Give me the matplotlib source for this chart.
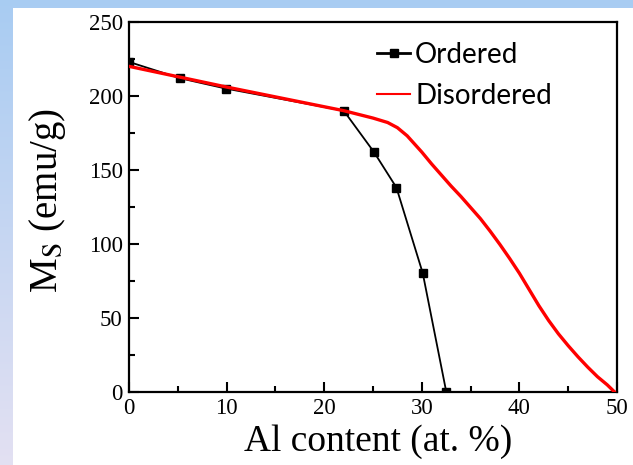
import numpy as np
import matplotlib
matplotlib.use("Agg")
import matplotlib.pyplot as plt
from matplotlib.patches import Rectangle

plt.rcParams['font.family'] = ['Liberation Serif', 'DejaVu Serif']
plt.rcParams['mathtext.fontset'] = 'stix'

# saturation magnetisation vs Al content
ordered_al = [0, 5.2, 9.9, 22.0, 25.1, 27.4, 30.1, 32.5]
ordered_ms = [223, 212, 205, 190, 162, 138, 80, 0]

disordered_al = [0, 10, 22, 25, 26.5, 27.5, 28.5, 30, 31, 32, 33, 34, 36, 37, 38, 39, 40, 41, 42,
                 43, 44, 45, 46, 47, 48, 49, 49.7]
disordered_ms = [220, 206, 190, 185, 182, 178.5, 173, 162, 154, 146.5, 139, 132, 117, 108.5, 99.5,
                 90, 80, 69, 58, 48, 39, 31, 23.5, 16.5, 10, 4.5, 0]

W, H = 633, 465
fig = plt.figure(figsize=(W / 100, H / 100), dpi=100)

# slide background: blue band on top, blue-to-lavender strip on the left
bg = fig.add_axes([0, 0, 1, 1])
bg.set_axis_off()
top = np.array([0.66, 0.80, 0.95])
bottom = np.array([0.89, 0.88, 0.95])
t = np.linspace(0, 1, 200)[:, None]
grad = (1 - t) * top + t * bottom
bg.imshow(grad[:, None, :], aspect='auto', extent=[0, W, H, 0])
bg.add_patch(Rectangle((13, 8), W - 13, H - 8, facecolor='white', edgecolor='none'))
bg.set_xlim(0, W)
bg.set_ylim(H, 0)

ax = fig.add_axes([129 / W, 73.5 / H, 488 / W, 369.5 / H])
ax.plot(ordered_al, ordered_ms, color='black', lw=1.3, marker='s', ms=6,
        label='Ordered', zorder=3)
ax.plot(disordered_al, disordered_ms, color='#ff0000', lw=2.4,
        label='Disordered', zorder=4)

ax.set_xlim(0, 50)
ax.set_ylim(0, 250)
ax.set_xticks(range(0, 51, 10))
ax.set_xticks(range(0, 51, 5), minor=True)
ax.set_yticks(range(0, 251, 50))
ax.set_yticks(range(0, 251, 25), minor=True)
ax.tick_params(which='both', direction='in', top=False, right=False, width=1.5,
               labelsize=16.5, pad=4.5)
ax.tick_params(which='major', length=7)
ax.tick_params(which='minor', length=4)
for s in ax.spines.values():
    s.set_linewidth(1.6)

ax.set_xlabel('Al content (at. %)', fontsize=27)
ax.set_ylabel(r'M$_{\rm S}$ (emu/g)', fontsize=28)
ax.xaxis.set_label_coords(0.51, -0.09)
ax.yaxis.set_label_coords(-0.125, 0.516)

leg = ax.legend(loc='upper left', bbox_to_anchor=(0.508, 0.947), frameon=False,
                prop={'family': 'Lato', 'size': 20}, handlelength=1.2,
                handletextpad=0.18, labelspacing=0.55, borderpad=0, borderaxespad=0)
leg.get_lines()[0].set_linewidth(2.0)
leg.get_lines()[1].set_linewidth(1.5)

fig.savefig('out.png', dpi=100)
